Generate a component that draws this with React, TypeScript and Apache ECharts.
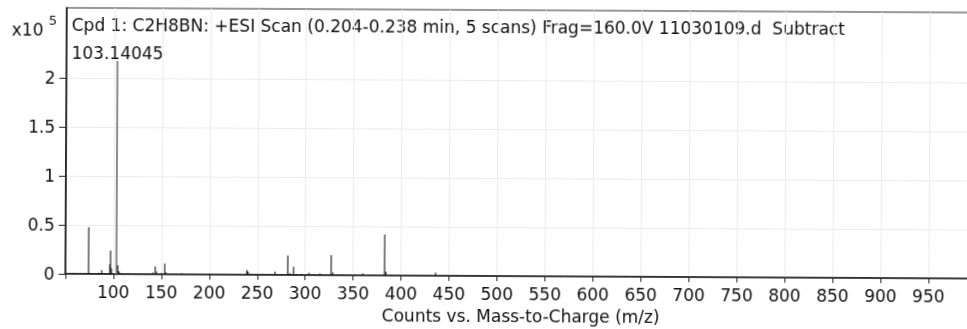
import React, { useEffect, useRef } from "react";
import * as echarts from "echarts";

// Centroided peaks of the subtracted +ESI scan: m/z and abundance (x10^5 counts)
const peakMz = [
  57, 59.5, 63, 66, 70, 74.1, 76, 80, 85, 88, 91, 94, 96.2, 97, 98,
  103.14045, 104.6, 106, 110, 116, 122, 128, 136, 141, 143.6, 145, 150,
  153.6, 155, 160, 165, 171, 178, 185, 192, 200, 210, 218, 226, 232,
  239.2, 240.5, 243, 248, 255, 262, 268.5, 275, 281.9, 284, 287.9, 292,
  296, 304, 310, 315.5, 320, 327.1, 328.8, 334, 340, 346, 352, 360, 366,
  372, 382.8, 384.2, 390, 398, 405, 412, 420, 428, 436, 444, 458, 470,
  485, 500, 512, 528, 540, 556, 566, 578, 590, 604, 618, 634, 648, 662,
  676, 690, 705, 720, 760, 790, 830, 866, 874, 882, 890, 930,
];
const peakIntensity = [
  0.006, 0.012, 0.005, 0.004, 0.006, 0.48, 0.01, 0.006, 0.015, 0.04, 0.01, 0.012, 0.1, 0.24, 0.06,
  2.18, 0.09, 0.03, 0.01, 0.008, 0.006, 0.008, 0.01, 0.02, 0.08, 0.03, 0.015,
  0.11, 0.02, 0.01, 0.008, 0.015, 0.006, 0.01, 0.006, 0.012, 0.008, 0.006, 0.007, 0.006,
  0.05, 0.035, 0.015, 0.008, 0.01, 0.008, 0.035, 0.01, 0.2, 0.02, 0.085, 0.01,
  0.015, 0.025, 0.01, 0.02, 0.008, 0.205, 0.03, 0.01, 0.012, 0.012, 0.008, 0.022, 0.006,
  0.008, 0.42, 0.04, 0.008, 0.006, 0.007, 0.006, 0.008, 0.006, 0.035, 0.006, 0.01, 0.006,
  0.007, 0.006, 0.008, 0.007, 0.006, 0.01, 0.008, 0.009, 0.007, 0.008, 0.006, 0.007, 0.006, 0.007,
  0.005, 0.006, 0.005, 0.005, 0.004, 0.004, 0.004, 0.006, 0.006, 0.006, 0.005, 0.004,
];
const labelledMz = 103.14045;

// Abundance ticks (x10^5) and m/z ticks
const yTicks = [0, 0.5, 1, 1.5, 2];
const xTicks = [50, 100, 150, 200, 250, 300, 350, 400, 450, 500, 550, 600, 650, 700, 750, 800, 850, 900, 950];

const titleText =
  "Cpd 1: C2H8BN: +ESI Scan (0.204-0.238 min, 5 scans) Frag=160.0V 11030109.d  Subtract";
const xAxisTitle = "Counts vs. Mass-to-Charge (m/z)";
const yScaleBase = "x10";
const yScaleExponent = "5";

const FONT = "'DejaVu Sans', 'Liberation Sans', sans-serif";

export default function App() {
  const ref = useRef<HTMLDivElement>(null);

  useEffect(() => {
    document.body.style.overflow = "hidden";
    const chart = echarts.init(ref.current!, null, { renderer: "svg" });
    const data = peakMz.map((mz, i) => [mz, peakIntensity[i]]);

    chart.setOption({
      animation: false,
      backgroundColor: "#ffffff",
      grid: {
        left: 66,
        right: 13,
        top: 10,
        bottom: 45.5,
        show: true,
        borderColor: "#333",
        borderWidth: 1.2,
        backgroundColor: "transparent",
      },
      xAxis: {
        type: "value",
        min: 50,
        max: 1000,
        interval: 50,
        name: xAxisTitle,
        nameLocation: "middle",
        nameGap: 26,
        nameTextStyle: { color: "#111", fontSize: 17, fontFamily: FONT },
        axisLine: { show: true, lineStyle: { color: "#111", width: 1.6 } },
        axisTick: { show: true, length: 5, customValues: xTicks, lineStyle: { color: "#222" } },
        axisLabel: {
          color: "#111",
          fontSize: 17,
          fontFamily: FONT,
          margin: 9,
          customValues: xTicks.filter((v) => v > 50),
        },
        splitLine: { show: true, lineStyle: { color: "#ececec", width: 1 } },
      },
      yAxis: {
        type: "value",
        min: 0,
        max: 2.72,
        interval: 0.5,
        axisLine: { show: true, lineStyle: { color: "#111", width: 1.6 } },
        axisTick: { show: true, length: 7, customValues: yTicks, lineStyle: { color: "#222" } },
        axisLabel: {
          color: "#111",
          fontSize: 17,
          fontFamily: FONT,
          margin: 11,
          customValues: yTicks,
        },
        splitLine: { show: true, lineStyle: { color: "#ececec", width: 1 } },
      },
      series: [
        {
          type: "custom",
          data,
          encode: { x: 0, y: 1 },
          clip: true,
          renderItem: (params: any, api: any) => {
            const mz = api.value(0);
            const y = api.value(1);
            const base = api.coord([mz, 0]);
            const top = api.coord([mz, y]);
            const main = mz === labelledMz;
            const stick = {
              type: "line",
              shape: { x1: base[0], y1: base[1], x2: top[0], y2: top[1] },
              style: { stroke: main ? "#8c8c8c" : "#151515", lineWidth: main ? 2 : 1.1 },
            };
            if (!main) return stick;
            return {
              type: "group",
              children: [
                stick,
                {
                  type: "text",
                  x: top[0],
                  y: top[1] - 8,
                  style: {
                    text: String(mz),
                    fill: "#111",
                    font: `17px ${FONT}`,
                    textAlign: "center",
                    textVerticalAlign: "middle",
                  },
                },
              ],
            };
          },
        },
      ],
      graphic: [
        {
          type: "text",
          left: 71,
          top: 18,
          style: { text: titleText, fill: "#111", font: `17px ${FONT}` },
        },
        {
          type: "text",
          left: 11,
          top: 23,
          style: { text: yScaleBase, fill: "#111", font: `17px ${FONT}` },
        },
        {
          type: "text",
          left: 48,
          top: 16,
          style: { text: yScaleExponent, fill: "#111", font: `13px ${FONT}` },
        },
      ],
    });

    return () => chart.dispose();
  }, []);

  return (
    <div
      ref={ref}
      style={{
        position: "fixed",
        left: 0,
        top: 0,
        width: 990,
        height: 329,
        transform: "rotate(0.3deg)",
        transformOrigin: "483px 164px",
        background: "#fff",
      }}
    />
  );
}
